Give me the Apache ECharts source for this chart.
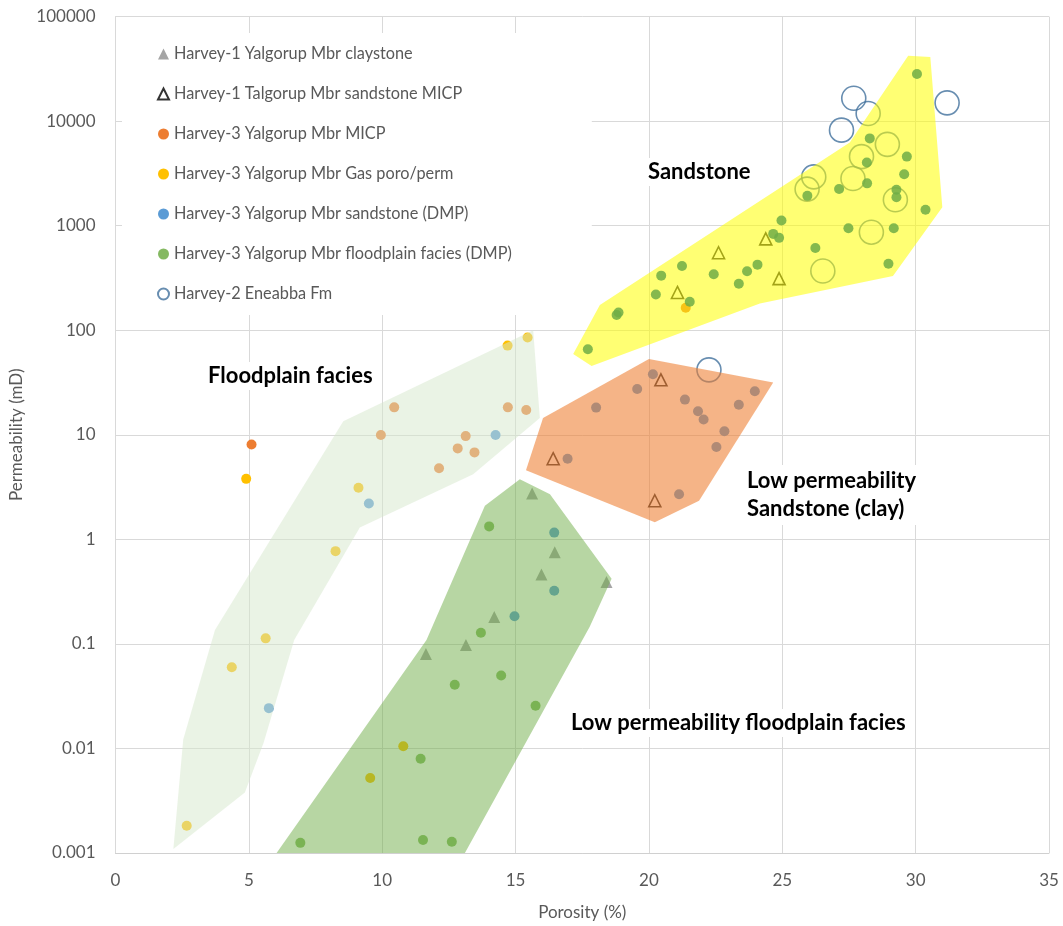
<!DOCTYPE html>
<html>
<head>
<meta charset="utf-8">
<title>Porosity vs permeability</title>
<script src="https://cdn.jsdelivr.net/npm/echarts@6/dist/echarts.min.js"></script>
<style>
  html, body { margin: 0; padding: 0; background: #fff; }
  #chart { width: 1063px; height: 926px; }
</style>
</head>
<body>
<div id="chart"></div>
<script>
// ---- Porosity (%) / permeability (mD) samples ----
const claystoneH1 = [[15.62,2.75],[16.47,0.753],[15.97,0.462],[14.20,0.181],[13.14,0.0977],[11.64,0.0802],[18.41,0.391]];
const sandstoneMicpH1 = [[21.07,230],[22.61,551],[24.38,748],[24.88,312],[20.45,33.6],[16.41,5.91],[20.22,2.34]];
const micpH3 = [[21.38,164],[5.10,8.09],[10.45,18.3],[14.71,18.3],[15.40,17.3],[9.95,9.94],[13.13,9.72],[12.83,7.41],[13.46,6.79],[12.13,4.78]];
const gasH3 = [[4.90,3.79],[14.70,71.3],[15.45,85.1],[9.11,3.11],[8.25,0.771],[5.63,0.113],[4.36,0.0597],[2.67,0.00182],[10.79,0.0105],[9.55,0.00521]];
const sandstoneDmpH3 = [[14.25,9.94],[9.50,2.20],[5.75,0.0243],[16.45,1.16],[16.45,0.323],[14.96,0.184],
  [20.15,38.0],[19.56,27.4],[18.02,18.2],[21.35,21.7],[21.84,16.8],[22.05,14.0],[22.83,10.8],[22.53,7.64],[23.37,19.4],[23.97,26.1],[16.95,5.91],[21.13,2.70]];
const floodplainDmpH3 = [[30.05,28250],[28.28,6840],[29.67,4580],[28.17,4020],[29.57,3110],[28.18,2540],[27.13,2240],[25.94,1930],[29.28,2210],[29.28,1870],
  [30.37,1420],[27.48,946],[29.18,946],[26.24,611],[28.98,433],[24.97,1120],[24.66,835],[24.88,765],[24.07,424],[23.68,366],[23.37,279],[22.43,343],
  [21.24,412],[20.46,333],[20.26,220],[21.53,187],[18.79,140],[18.86,148],[17.71,65.8],
  [14.01,1.33],[13.70,0.128],[14.46,0.0498],[12.72,0.0406],[15.75,0.0256],[11.44,0.00796],[6.93,0.00125],[11.53,0.00133],[12.61,0.00128]];
const eneabbaH2 = [[27.68,16560],[28.22,11830],[27.22,8200],[31.18,14960],[26.18,2930],[25.93,2240],[28.94,6000],[27.97,4580],[27.65,2830],
  [29.24,1770],[28.34,867],[26.52,369],[22.25,41.8]];

// ---- Facies envelopes (porosity, permeability vertices) ----
const sandstonePoly = [[18.16,174],[27.53,6250],[29.72,42200],[30.55,41000],[31.0,1500],[29.15,331],[24.16,180],[17.85,45.6],[17.16,59.3]];
const clayPoly = [[20.0,53],[24.66,31.7],[21.88,2.34],[20.22,1.46],[15.39,4.57],[16.03,14.5]];
const lowFloodPoly = [[15.16,3.76],[16.29,2.70],[18.6,0.42],[17.78,0.146],[13.1,0.001],[6.04,0.001],[11.66,0.109],[13.85,2.1]];
const floodPoly = [[8.54,13.5],[15.66,100],[15.91,14.5],[13.41,4.19],[9.16,1.30],[6.7,0.109],[5.55,0.0113],[4.85,0.00379],[2.17,0.00109],[2.54,0.0122],[3.73,0.1355]];

// ---- Axis ticks ----
const yTickLabels = ['0.001','0.01','0.1','1','10','100','1000','10000','100000'];
const xTickLabels = ['0','5','10','15','20','25','30','35'];

const FONT = 'Lato';
const GREY = '#595959';

function envelope(name, verts, fill) {
  return {
    type: 'custom',
    name: name,
    silent: true,
    z: 5,
    data: [verts[0]],
    renderItem: function (params, api) {
      return {
        type: 'polygon',
        shape: { points: verts.map(function (v) { return api.coord(v); }) },
        style: { fill: fill }
      };
    }
  };
}

function dots(name, data, color, symbol, size, extra) {
  return Object.assign({
    type: 'scatter',
    name: name,
    data: data,
    symbol: symbol,
    symbolSize: size,
    z: 2,
    itemStyle: { color: color, opacity: 1 }
  }, extra || {});
}

const chart = echarts.init(document.getElementById('chart'), null, { renderer: 'canvas' });

const legendNames = [
  'Harvey-1 Yalgorup Mbr claystone',
  'Harvey-1 Talgorup Mbr sandstone MICP',
  'Harvey-3 Yalgorup Mbr MICP',
  'Harvey-3 Yalgorup Mbr Gas poro/perm',
  'Harvey-3 Yalgorup Mbr sandstone (DMP)',
  'Harvey-3 Yalgorup Mbr floodplain facies (DMP)',
  'Harvey-2 Eneabba Fm'
];

const labelFont = 'bold 22px ' + FONT;

chart.setOption({
  animation: false,
  backgroundColor: '#fff',
  grid: { left: 115.5, top: 16.6, width: 933.5, height: 840.8, containLabel: false },
  legend: {
    data: legendNames,
    orient: 'vertical',
    left: 122,
    top: 33,
    padding: [13, 80, 13, 35],
    backgroundColor: '#fff',
    itemGap: 24,
    itemWidth: 11,
    itemHeight: 11,
    textStyle: { fontFamily: FONT, fontSize: 16.3, color: GREY },
    z: 8
  },
  xAxis: {
    type: 'value',
    min: 0, max: 35, interval: 5,
    name: 'Porosity (%)',
    nameLocation: 'middle',
    nameGap: 51,
    nameTextStyle: { fontFamily: FONT, fontSize: 17, color: GREY },
    axisLine: { show: true, lineStyle: { color: '#d0d0d0', width: 1 } },
    axisTick: { show: false },
    axisLabel: {
      margin: 19,
      fontFamily: FONT, fontSize: 17, color: GREY,
      formatter: function (v) { return xTickLabels[Math.round(v / 5)]; }
    },
    splitLine: { show: true, lineStyle: { color: '#d9d9d9', width: 1 } }
  },
  yAxis: {
    type: 'log',
    logBase: 10,
    min: 0.001, max: 100000,
    name: 'Permeability (mD)',
    nameLocation: 'middle',
    nameGap: 80,
    nameTextStyle: { fontFamily: FONT, fontSize: 17, color: GREY },
    axisLine: { show: true, lineStyle: { color: '#d9d9d9', width: 1 } },
    axisTick: { show: false },
    axisLabel: {
      margin: 20,
      fontFamily: FONT, fontSize: 17, color: GREY,
      formatter: function (v) { return yTickLabels[Math.round(Math.log10(v)) + 3]; }
    },
    splitLine: { show: true, lineStyle: { color: '#d9d9d9', width: 1 } }
  },
  graphic: [
    { type: 'text', left: 644, top: 158, z: 10,
      style: { text: 'Sandstone', font: labelFont, fill: '#000', backgroundColor: '#fff', padding: [3, 4] } },
    { type: 'text', left: 204, top: 362, z: 10,
      style: { text: 'Floodplain facies', font: labelFont, fill: '#000', backgroundColor: '#fff', padding: [3, 4] } },
    { type: 'text', left: 743, top: 465, z: 10,
      style: { text: 'Low permeability\nSandstone (clay)', font: labelFont, lineHeight: 28, fill: '#000', backgroundColor: '#fff', padding: [2, 4] } },
    { type: 'text', left: 567, top: 709, z: 10,
      style: { text: 'Low permeability floodplain facies', font: labelFont, fill: '#000', backgroundColor: '#fff', padding: [3, 4] } }
  ],
  series: [
    dots(legendNames[0], claystoneH1, '#a5a5a5', 'triangle', 12),
    dots(legendNames[1], sandstoneMicpH1, 'rgba(255,255,255,0)', 'triangle', 12,
      { itemStyle: { color: 'rgba(255,255,255,0)', borderColor: '#000', borderWidth: 1.6 } }),
    dots(legendNames[2], micpH3, '#ed7d31', 'circle', 10),
    dots(legendNames[3], gasH3, '#ffc000', 'circle', 10),
    dots(legendNames[4], sandstoneDmpH3, '#5b9bd5', 'circle', 10),
    // floodplain DMP dots sit over the envelopes, slightly see-through
    dots(legendNames[5], floodplainDmpH3, '#70ad47', 'circle', 10,
      { z: 6, itemStyle: { color: '#70ad47', opacity: 0.85 } }),
    dots(legendNames[6], eneabbaH2, 'rgba(255,255,255,0)', 'circle', 24,
      { itemStyle: { color: 'rgba(255,255,255,0)', borderColor: '#41719c', borderWidth: 1.6 } }),
    envelope('sandstone envelope', sandstonePoly, 'rgba(255,255,0,0.55)'),
    envelope('clay sandstone envelope', clayPoly, 'rgba(237,125,49,0.58)'),
    envelope('low permeability floodplain envelope', lowFloodPoly, 'rgba(112,173,71,0.5)'),
    envelope('floodplain envelope', floodPoly, 'rgba(214,232,204,0.5)')
  ]
});
</script>
</body>
</html>
